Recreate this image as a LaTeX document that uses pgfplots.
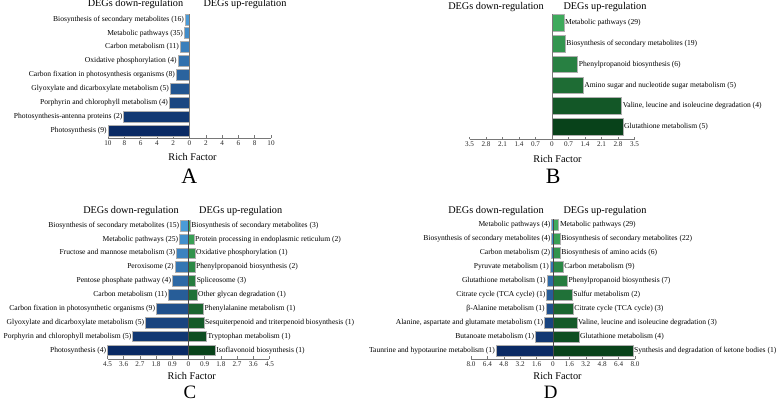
\documentclass[border=0pt]{standalone}
\usepackage{pgfplots}
\pgfplotsset{compat=1.18}
\usepackage{fontspec}
\setmainfont{Liberation Serif}

\definecolor{ltblue}{RGB}{74,155,216}
\definecolor{dkblue}{RGB}{10,42,100}
\definecolor{ltgreen}{RGB}{62,170,92}
\definecolor{dkgreen}{RGB}{8,66,26}
\definecolor{bordergray}{RGB}{175,175,175}
\definecolor{axgray}{RGB}{120,120,120}

\newcommand{\lblfont}{\fontsize{7.6}{8.5}\selectfont}
\newcommand{\hdrfont}{\fontsize{10.3}{12}\selectfont}
\newcommand{\hb}[4]{\addplot[fill=#3, draw=bordergray, line width=0.5bp, nodes near coords={#4}] coordinates {(#1,#2)};}

\tikzset{zl/.style={axgray, line width=0.5bp}}
\pgfplotsset{
  panel/.style={
    scale only axis, xbar, bar shift=0pt, clip=false,
    axis x line=bottom, axis y line=none,
    x axis line style={axgray, -, line width=0.5bp},
    xtick style={axgray, line width=0.5bp},
    major tick length=2.5bp,
    tick align=inside,
    ytick=\empty,
    tick label style={font=\fontsize{7.2}{8}\selectfont, text=black!85},
    xticklabel style={yshift=1bp},
    /pgf/number format/assume math mode=true,
    every node near coord/.append style={font=\lblfont, inner sep=1bp, text=black},
    nodes near coords align=horizontal,
  },
}

\begin{document}
\begin{tikzpicture}
\path[use as bounding box] (0,0) rectangle (778bp,403bp);

% ---------------- Panel A ----------------
\begin{axis}[panel, at={(108bp,265bp)}, anchor=south west, width=163bp, height=125.6bp,
  xmin=-10, xmax=10, ymin=0.45, ymax=9.5, bar width=0.79,
  xtick={-10,-8,...,10}, xticklabels={10,8,6,4,2,0,2,4,6,8,10}]
\hb{-0.53}{9}{dkblue!0!ltblue}{Biosynthesis of secondary metabolites (16)}
\hb{-0.65}{8}{dkblue!12!ltblue}{Metabolic pathways (35)}
\hb{-1.14}{7}{dkblue!25!ltblue}{Carbon metabolism (11)}
\hb{-1.43}{6}{dkblue!37!ltblue}{Oxidative phosphorylation (4)}
\hb{-1.63}{5}{dkblue!50!ltblue}{Carbon fixation in photosynthesis organisms (8)}
\hb{-2.37}{4}{dkblue!62!ltblue}{Glyoxylate and dicarboxylate metabolism (5)}
\hb{-2.49}{3}{dkblue!75!ltblue}{Porphyrin and chlorophyll metabolism (4)}
\hb{-8.08}{2}{dkblue!87!ltblue}{Photosynthesis-antenna proteins (2)}
\hb{-10.0}{1}{dkblue!100!ltblue}{Photosynthesis (9)}
\draw[zl] (axis cs:0,0.45) -- (axis cs:0,9.4);
\end{axis}

% ---------------- Panel B ----------------
\begin{axis}[panel, at={(469.5bp,263.7bp)}, anchor=south west, width=165bp, height=126.9bp,
  xmin=-3.5, xmax=3.5, ymin=0.4, ymax=6.5, bar width=0.8,
  xtick={-3.5,-2.8,-2.1,-1.4,-0.7,0,0.7,1.4,2.1,2.8,3.5},
  xticklabels={3.5,2.8,2.1,1.4,0.7,0,0.7,1.4,2.1,2.8,3.5}]
\hb{0.50}{6}{dkgreen!0!ltgreen}{Metabolic pathways (29)}
\hb{0.56}{5}{dkgreen!20!ltgreen}{Biosynthesis of secondary metabolites (19)}
\hb{1.09}{4}{dkgreen!40!ltgreen}{Phenylpropanoid biosynthesis (6)}
\hb{1.32}{3}{dkgreen!60!ltgreen}{Amino sugar and nucleotide sugar metabolism (5)}
\hb{2.95}{2}{dkgreen!80!ltgreen}{Valine, leucine and isoleucine degradation (4)}
\hb{3.01}{1}{dkgreen!100!ltgreen}{Glutathione metabolism (5)}
\draw[zl] (axis cs:0,0.4) -- (axis cs:0,6.4);
\end{axis}

% ---------------- Panel C ----------------
\begin{axis}[panel, at={(107.5bp,44bp)}, anchor=south west, width=162bp, height=140.5bp,
  xmin=-4.5, xmax=4.5, ymin=0.37, ymax=10.5, bar width=0.77,
  xtick={-4.5,-3.6,-2.7,-1.8,-0.9,0,0.9,1.8,2.7,3.6,4.5},
  xticklabels={4.5,3.6,2.7,1.8,0.9,0,0.9,1.8,2.7,3.6,4.5}]
\hb{-0.45}{10}{dkblue!0!ltblue}{Biosynthesis of secondary metabolites (15)}
\hb{-0.50}{9}{dkblue!11!ltblue}{Metabolic pathways (25)}
\hb{-0.67}{8}{dkblue!22!ltblue}{Fructose and mannose metabolism (3)}
\hb{-0.75}{7}{dkblue!33!ltblue}{Peroxisome (2)}
\hb{-0.90}{6}{dkblue!44!ltblue}{Pentose phosphate pathway (4)}
\hb{-1.12}{5}{dkblue!55!ltblue}{Carbon metabolism (11)}
\hb{-1.79}{4}{dkblue!66!ltblue}{Carbon fixation in photosynthetic organisms (9)}
\hb{-2.39}{3}{dkblue!77!ltblue}{Glyoxylate and dicarboxylate metabolism (5)}
\hb{-3.10}{2}{dkblue!88!ltblue}{Porphyrin and chlorophyll metabolism (5)}
\hb{-4.50}{1}{dkblue!100!ltblue}{Photosynthesis (4)}
\hb{0.09}{10}{dkgreen!0!ltgreen}{Biosynthesis of secondary metabolites (3)}
\hb{0.30}{9}{dkgreen!11!ltgreen}{Protein processing in endoplasmic reticulum (2)}
\hb{0.35}{8}{dkgreen!22!ltgreen}{Oxidative phosphorylation (1)}
\hb{0.35}{7}{dkgreen!33!ltgreen}{Phenylpropanoid biosynthesis (2)}
\hb{0.39}{6}{dkgreen!44!ltgreen}{Spliceosome (3)}
\hb{0.47}{5}{dkgreen!55!ltgreen}{Other glycan degradation (1)}
\hb{0.82}{4}{dkgreen!66!ltgreen}{Phenylalanine metabolism (1)}
\hb{0.86}{3}{dkgreen!77!ltgreen}{Sesquiterpenoid and triterpenoid biosynthesis (1)}
\hb{0.99}{2}{dkgreen!88!ltgreen}{Tryptophan metabolism (1)}
\hb{1.48}{1}{dkgreen!100!ltgreen}{Isoflavonoid biosynthesis (1)}
\draw[axgray!60!black, line width=0.6bp] (axis cs:0,0.37) -- (axis cs:0,10.4);
\end{axis}

% ---------------- Panel D ----------------
\begin{axis}[panel, at={(471bp,44bp)}, anchor=south west, width=164bp, height=141.6bp,
  xmin=-8, xmax=8, ymin=0.43, ymax=10.5, bar width=0.77,
  xtick={-8,-6.4,-4.8,-3.2,-1.6,0,1.6,3.2,4.8,6.4,8},
  xticklabels={8.0,6.4,4.8,3.2,1.6,0,1.6,3.2,4.8,6.4,8.0}]
\hb{-0.13}{10}{dkblue!0!ltblue}{Metabolic pathways (4)}
\hb{-0.13}{9}{dkblue!11!ltblue}{Biosynthesis of secondary metabolites (4)}
\hb{-0.16}{8}{dkblue!22!ltblue}{Carbon metabolism (2)}
\hb{-0.29}{7}{dkblue!33!ltblue}{Pyruvate metabolism (1)}
\hb{-0.59}{6}{dkblue!44!ltblue}{Glutathione metabolism (1)}
\hb{-0.62}{5}{dkblue!55!ltblue}{Citrate cycle (TCA cycle) (1)}
\hb{-0.69}{4}{dkblue!66!ltblue}{β-Alanine metabolism (1)}
\hb{-0.85}{3}{dkblue!77!ltblue}{Alanine, aspartate and glutamate metabolism (1)}
\hb{-1.73}{2}{dkblue!88!ltblue}{Butanoate metabolism (1)}
\hb{-5.56}{1}{dkblue!100!ltblue}{Taunrine and hypotaurine metabolism (1)}
\hb{0.56}{10}{dkgreen!0!ltgreen}{Metabolic pathways (29)}
\hb{0.69}{9}{dkgreen!11!ltgreen}{Biosynthesis of secondary metabolites (22)}
\hb{0.69}{8}{dkgreen!22!ltgreen}{Biosynthesis of amino acids (6)}
\hb{0.98}{7}{dkgreen!33!ltgreen}{Carbon metabolism (9)}
\hb{1.41}{6}{dkgreen!44!ltgreen}{Phenylpropanoid biosynthesis (7)}
\hb{1.86}{5}{dkgreen!55!ltgreen}{Sulfur metabolism (2)}
\hb{1.96}{4}{dkgreen!66!ltgreen}{Citrate cycle (TCA cycle) (3)}
\hb{2.32}{3}{dkgreen!77!ltgreen}{Valine, leucine and isoleucine degradation (3)}
\hb{2.52}{2}{dkgreen!88!ltgreen}{Glutathione metabolism (4)}
\hb{7.80}{1}{dkgreen!100!ltgreen}{Synthesis and degradation of ketone bodies (1)}
\draw[axgray!60!black, line width=0.6bp] (axis cs:0,0.43) -- (axis cs:0,10.4);
\end{axis}

% ---------------- Headers, axis titles, panel letters ----------------
\node[font=\hdrfont] at (135.5bp,398.5bp) {DEGs down-regulation};
\node[font=\hdrfont] at (245bp,398.5bp) {DEGs up-regulation};
\node[font=\hdrfont] at (496bp,396.3bp) {DEGs down-regulation};
\node[font=\hdrfont] at (605bp,396.3bp) {DEGs up-regulation};
\node[font=\hdrfont] at (131bp,192.3bp) {DEGs down-regulation};
\node[font=\hdrfont] at (240.7bp,192.3bp) {DEGs up-regulation};
\node[font=\hdrfont] at (496bp,192bp) {DEGs down-regulation};
\node[font=\hdrfont] at (605bp,192bp) {DEGs up-regulation};

\node[font=\hdrfont] at (192.5bp,246.3bp) {Rich Factor};
\node[font=\hdrfont] at (557.5bp,244bp) {Rich Factor};
\node[font=\hdrfont] at (191.8bp,27bp) {Rich Factor};
\node[font=\hdrfont] at (557.5bp,27bp) {Rich Factor};

\node[font=\fontsize{22}{24}\selectfont] at (189.3bp,227bp) {A};
\node[font=\fontsize{22}{24}\selectfont] at (553.3bp,227bp) {B};
\node[font=\fontsize{19}{21}\selectfont, inner sep=0pt, anchor=base] at (190bp,4.6bp) {C};
\node[font=\fontsize{19}{21}\selectfont, inner sep=0pt, anchor=base] at (550.7bp,4.6bp) {D};
\end{tikzpicture}
\end{document}
